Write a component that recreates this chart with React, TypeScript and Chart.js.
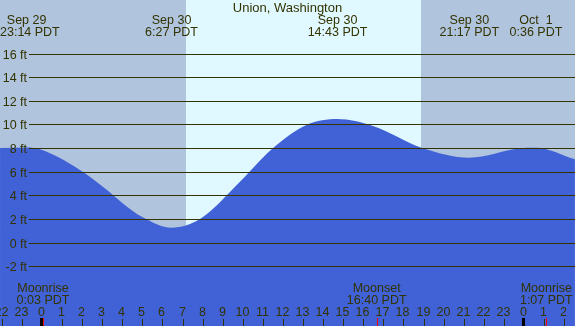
import { useEffect, useRef } from 'react';
import { Chart, registerables } from 'chart.js';

Chart.register(...registerables);

// ---- data (hours relative to Sep 30 00:00 PDT, heights in feet) ----
const chartTitle = 'Union, Washington';
const tideHours = [-2.09, -0.77, -0.1, 1.89, 3.24, 4.0, 5.0, 6.45, 7.87, 9.86, 11.44, 13.18, 14.72, 16.48, 18.97, 21.28, 23.8, 24.6, 26.54];
const tideFeet = [8.05, 8.1, 7.94, 6.19, 4.49, 3.4, 2.2, 1.3, 2.03, 5.19, 7.94, 10.0, 10.5, 9.92, 8.03, 7.23, 8.03, 8.08, 7.1];

const extremeHours = [-0.767, 6.45, 14.717, 21.283, 24.6];
const extremeDates = ['Sep 29', 'Sep 30', 'Sep 30', 'Sep 30', 'Oct  1'];
const extremeTimes = ['23:14 PDT', '6:27 PDT', '14:43 PDT', '21:17 PDT', '0:36 PDT'];

const daylightHours = [7.17, 18.87]; // sunrise, sunset

const moonHours = [0.05, 16.667, 25.117];
const moonNames = ['Moonrise', 'Moonset', 'Moonrise'];
const moonTimes = ['0:03 PDT', '16:40 PDT', '1:07 PDT'];

const gridFeet = [-2, 0, 2, 4, 6, 8, 10, 12, 14, 16];
const hourTicks = [-2, -1, 0, 1, 2, 3, 4, 5, 6, 7, 8, 9, 10, 11, 12, 13, 14, 15, 16, 17, 18, 19, 20, 21, 22, 23, 24, 25, 26];
const midnightHours = [0, 24];

// ---- styles ----
const NIGHT = '#b0c4de';
const DAY = '#e0f8ff';
const WATER = '#4162d6';
const INK = '#333300';
const FONT = '12.5px "Liberation Sans", Arial, sans-serif';
const TITLE_FONT = '13px "Liberation Sans", Arial, sans-serif';

const decor = {
  id: 'tideDecor',
  beforeDatasetsDraw(chart: any) {
    const { ctx, chartArea, scales } = chart;
    const xs = scales.x;
    const sr = xs.getPixelForValue(daylightHours[0]);
    const ss = xs.getPixelForValue(daylightHours[1]);
    ctx.save();
    ctx.fillStyle = NIGHT;
    ctx.fillRect(chartArea.left, chartArea.top, chartArea.right - chartArea.left, chartArea.bottom - chartArea.top);
    ctx.fillStyle = DAY;
    ctx.fillRect(Math.round(sr), chartArea.top, Math.round(ss) - Math.round(sr), chartArea.bottom - chartArea.top);
    ctx.restore();
  },
  afterDatasetsDraw(chart: any) {
    const { ctx, chartArea, scales } = chart;
    const xs = scales.x;
    const ys = scales.y;
    const W = chartArea.right;
    ctx.save();
    // grid lines + y labels
    ctx.font = FONT;
    ctx.fillStyle = INK;
    ctx.strokeStyle = INK;
    ctx.lineWidth = 1;
    ctx.textAlign = 'right';
    ctx.textBaseline = 'middle';
    gridFeet.forEach((f) => {
      const y = Math.floor(ys.getPixelForValue(f)) + 0.5;
      ctx.beginPath();
      ctx.moveTo(29, y);
      ctx.lineTo(W, y);
      ctx.stroke();
      ctx.fillText(`${f} ft`, 27, y + 1);
    });
    // title
    ctx.textAlign = 'center';
    ctx.textBaseline = 'alphabetic';
    ctx.font = TITLE_FONT;
    ctx.fillText(chartTitle, W / 2, 12);
    // extremes header
    ctx.font = FONT;
    extremeHours.forEach((h, i) => {
      const x = xs.getPixelForValue(h);
      [extremeDates[i], extremeTimes[i]].forEach((t, j) => {
        const w = ctx.measureText(t).width;
        let cx = x;
        if (cx - w / 2 < 0) cx = w / 2;
        if (cx + w / 2 > W) cx = W - w / 2;
        ctx.fillText(t, cx, 24 + j * 12);
      });
    });
    // bottom hour ticks
    hourTicks.forEach((h) => {
      const x = Math.round(xs.getPixelForValue(h)) + 0.5;
      ctx.beginPath();
      ctx.moveTo(x, 319);
      ctx.lineTo(x, 326);
      ctx.stroke();
      const lab = String(((h % 24) + 24) % 24);
      ctx.fillText(lab, x - 1, 316);
    });
    // midnight bars
    ctx.fillStyle = '#000000';
    midnightHours.forEach((h) => {
      const x = Math.round(xs.getPixelForValue(h));
      ctx.fillRect(x - 2, 318, 3, 8);
    });
    // moon events
    moonHours.forEach((h, i) => {
      const x = xs.getPixelForValue(h);
      ctx.fillStyle = '#ff0000';
      ctx.fillRect(Math.round(x), 318, 1, 8);
      ctx.fillStyle = INK;
      ctx.fillText(moonNames[i], x, 292);
      ctx.fillText(moonTimes[i], x, 304);
    });
    ctx.restore();
  },
};

export default function App() {
  const ref = useRef<HTMLCanvasElement | null>(null);
  useEffect(() => {
    document.body.style.margin = '0';
    if (!ref.current) return;
    const chart = new Chart(ref.current, {
      type: 'line',
      data: {
        datasets: [
          {
            data: tideHours.map((h, i) => ({ x: h, y: tideFeet[i] })),
            fill: 'start',
            backgroundColor: WATER,
            borderWidth: 0,
            borderColor: 'rgba(0,0,0,0)',
            pointRadius: 0,
            cubicInterpolationMode: 'monotone',
          },
        ],
      },
      options: {
        animation: false,
        responsive: false,
        devicePixelRatio: 1,
        layout: { padding: 0 },
        plugins: { legend: { display: false }, title: { display: false }, tooltip: { enabled: false } },
        scales: {
          x: { type: 'linear', min: -2.092, max: 26.544, display: false },
          y: { type: 'linear', min: -7.03, max: 20.59, display: false },
        },
      },
      plugins: [decor],
    });
    return () => chart.destroy();
  }, []);
  return (
    <div style={{ width: 575, height: 326 }}>
      <canvas ref={ref} width={575} height={326} style={{ display: 'block' }} />
    </div>
  );
}
